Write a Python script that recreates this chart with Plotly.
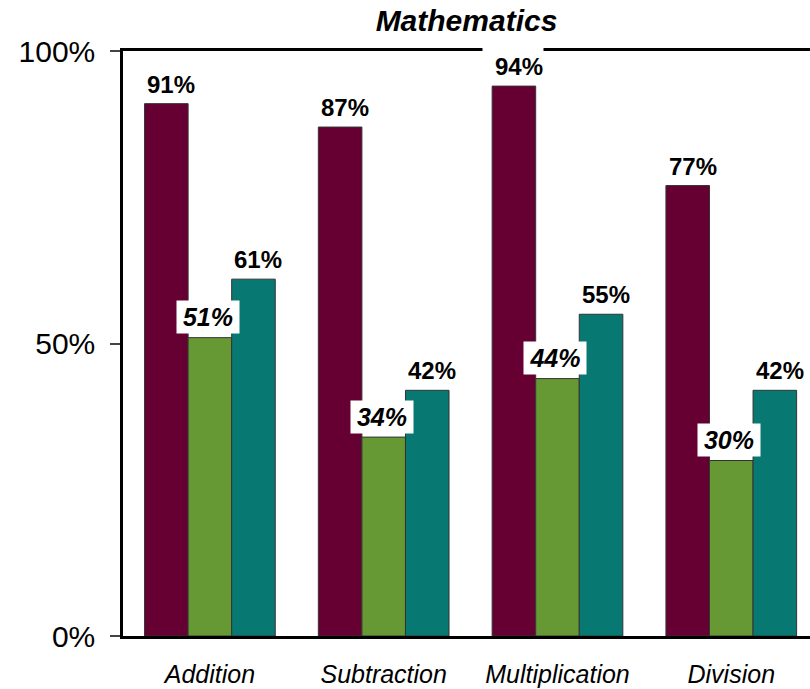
import plotly.graph_objects as go

categories = ["Addition", "Subtraction", "Multiplication", "Division"]
series_names = ["Series 1", "Series 2", "Series 3"]
series_values = [
    [91, 87, 94, 77],
    [51, 34, 44, 30],
    [61, 42, 55, 42],
]
series_colors = ["#660033", "#669933", "#087873"]
y_tick_vals = [0, 0.5, 1.0]
y_tick_text = ["0%", "50%", "100%"]

FONT = "Liberation Sans, Arial, sans-serif"
BARGAP = 0.248
n_series = len(series_values)
bar_w = (1 - BARGAP) / n_series

fig = go.Figure()
for name, vals, col in zip(series_names, series_values, series_colors):
    fig.add_trace(go.Bar(
        x=categories, y=[v / 100 for v in vals], name=name,
        marker=dict(color=col, line=dict(color="#333333", width=1)),
        showlegend=False,
    ))

annotations = []
for j, vals in enumerate(series_values):
    for i, v in enumerate(vals):
        xpos = i + (j - (n_series - 1) / 2) * bar_w
        if j == 1:
            annotations.append(dict(
                x=xpos, y=v / 100, xref="x", yref="y",
                text=f"{v}%", showarrow=False,
                font=dict(family=FONT, size=25, color="black", weight="bold", style="italic"),
                bgcolor="white", borderpad=0, width=62, height=32,
                xanchor="center", yanchor="middle", xshift=-2, yshift=20.5,
            ))
        else:
            annotations.append(dict(
                x=xpos, y=v / 100, xref="x", yref="y",
                text=f"{v}%", showarrow=False,
                font=dict(family=FONT, size=24, color="black", weight="bold"),
                bgcolor="white", borderpad=0, width=60, height=36,
                align="right", valign="bottom",
                xanchor="center", yanchor="bottom", xshift=-1, yshift=5,
            ))

fig.update_layout(
    width=810, height=689,
    margin=dict(l=123, r=0, t=51, b=53),
    paper_bgcolor="white", plot_bgcolor="white",
    barmode="group", bargap=BARGAP, bargroupgap=0,
    title=dict(
        text="Mathematics", x=0.5, xref="paper", xanchor="center",
        y=1 - 20 / 689, yref="container", yanchor="middle",
        font=dict(family=FONT, size=30, color="black", weight="bold", style="italic"),
    ),
    xaxis=dict(
        range=[-0.5, 3.453], showgrid=False, zeroline=False,
        showline=True, linecolor="black", linewidth=2.5, mirror=True,
        ticks="", tickfont=dict(family=FONT, size=25, color="black", style="italic"),
        ticklabelstandoff=14,
    ),
    yaxis=dict(
        range=[0, 1], tickvals=y_tick_vals, ticktext=y_tick_text,
        showgrid=False, zeroline=False,
        showline=True, linecolor="black", linewidth=2.5,
        ticks="outside", ticklen=10, tickwidth=1.5, tickcolor="#444444",
        tickfont=dict(family=FONT, size=30, color="black"),
        ticklabelstandoff=9,
    ),
    annotations=annotations,
)

fig.write_html("out.html")
